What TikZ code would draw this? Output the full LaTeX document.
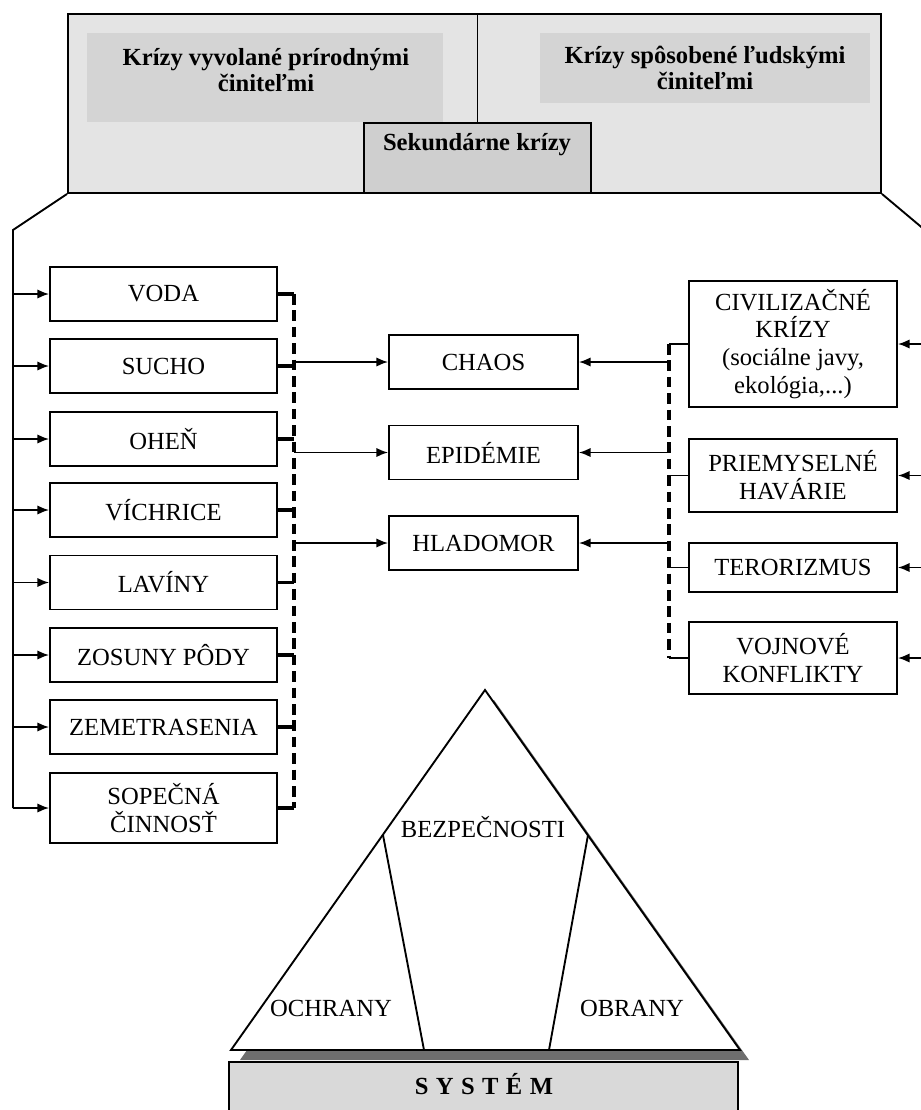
\documentclass[tikz,border=0pt]{standalone}
\usepackage{fontspec}
\setmainfont{Liberation Serif}
\usetikzlibrary{arrows.meta}
\definecolor{framegray}{HTML}{E4E4E4}
\definecolor{titlegray}{HTML}{D4D4D4}
\definecolor{secgray}{HTML}{CFCFCF}
\definecolor{sysgray}{HTML}{D9D9D9}
\definecolor{shadowgray}{HTML}{6E6E6E}
\tikzstyle{box}=[draw=black, line width=1.5pt, fill=white, inner sep=0pt, align=center, font=\fontsize{21}{23.8}\selectfont]
\tikzstyle{lbox}=[box, minimum width=6.81cm, minimum height=1.62cm]
\tikzstyle{mbox}=[box, minimum width=5.67cm, minimum height=1.62cm]
\tikzstyle{rbox}=[box, minimum width=6.24cm]
\tikzstyle{title}=[align=center, inner sep=0pt, font=\fontsize{21}{22}\selectfont\bfseries]
\tikzstyle{label}=[inner sep=0pt, font=\fontsize{21}{23.8}\selectfont]
\tikzstyle{stub}=[line width=2.6pt]
\tikzstyle{spine}=[line width=2.8pt, dash pattern=on 9pt off 5pt]

\begin{document}
\begin{tikzpicture}[x=0.03cm,y=-0.03cm,>={Latex[length=10pt,width=8pt]},line width=1.6pt]
		\useasboundingbox(0,0)rectangle(921,1110);
		% horny ramec
		\node(frame)[draw,fill=framegray,minimum width=24.39cm,minimum height=5.37cm]at(474.5,103.5){};
		\node(natgray)[fill=titlegray,minimum width=10.68cm,minimum height=2.67cm]at(265,77.5){};
		\node(humgray)[fill=titlegray,minimum width=9.9cm,minimum height=2.1cm]at(705,68){};
		\node(sek)[draw,fill=secgray,minimum width=6.81cm,minimum height=2.1cm]at(477.5,158){};
		\draw(sek.north|-frame.north)--(sek.north);
		\node(natural)[title]at(266,70){Krízy vyvolané prírodnými\\činiteľmi};
		\node(human)[title]at(705,68){Krízy spôsobené ľudskými\\činiteľmi};
		\node(sektext)[title]at(477,145){Sekundárne krízy};
		\coordinate(LT)at(13,230);
		\coordinate(RT)at(932,236);
		\coordinate(DL)at(294,0);
		\coordinate(DR)at(669,0);
		% prirodne krizy
		\node(voda)[lbox]at(163.5,294){VODA};
		\node(sucho)[lbox]at(163.5,366){SUCHO};
		\node(ohen)[lbox]at(163.5,439){OHEŇ};
		\node(vichrice)[lbox]at(163.5,510){VÍCHRICE};
		\node(laviny)[lbox]at(163.5,582.5){LAVÍNY};
		\node(zosuny)[lbox]at(163.5,655){ZOSUNY PÔDY};
		\node(zemetrasenia)[lbox]at(163.5,727){ZEMETRASENIA};
		\node(sopecna)[lbox,minimum height=2.1cm]at(163.5,808){SOPEČNÁ\\ČINNOSŤ};
		% sekundarne krizy
		\node(chaos)[mbox]at(483.5,362){CHAOS};
		\node(epidemie)[mbox]at(483.5,452.5){EPIDÉMIE};
		\node(hladomor)[mbox]at(483.5,543){HLADOMOR};
		% krizy sposobene clovekom
		\node(civil)[rbox,minimum height=3.78cm]at(793,344){CIVILIZAČNÉ\\KRÍZY\\(sociálne javy,\\ekológia,...)};
		\node(priemysel)[rbox,minimum height=2.19cm]at(793,475.5){PRIEMYSELNÉ\\HAVÁRIE};
		\node(terorizmus)[rbox,minimum height=1.47cm]at(793,567.5){TERORIZMUS};
		\node(vojnove)[rbox,minimum height=2.16cm]at(793,658){VOJNOVÉ\\KONFLIKTY};
		\draw(frame.south west)--(LT)--(LT|-sopecna.west);
		\draw(frame.south east)--(RT)--(RT|-vojnove.east);
		\foreach \n in {voda,sucho,ohen,vichrice,laviny,zosuny,zemetrasenia,sopecna}{
			\draw[->](LT|-\n.west)--(\n.west);
			\draw[stub](\n.east)--(\n.east-|DL);
		}
		\draw[spine](DL|-voda.east)--(DL|-sopecna.east);
		\foreach \n in {civil,priemysel,terorizmus,vojnove}{
			\draw[->](RT|-\n.east)--(\n.east);
			\draw(\n.west)--(\n.west-|DR);
		}
		\draw[spine](DR|-civil.west)--(DR|-vojnove.west);
		\foreach \n in {chaos,epidemie,hladomor}{
			\draw[->](DL|-\n.west)--(\n.west);
			\draw[->](DR|-\n.east)--(\n.east);
		}
		% trojuholnik
		\coordinate(apex)at(485,690);
		\coordinate(bl)at(231,1050);
		\coordinate(br)at(740,1050);
		\coordinate(p1)at(383,835);
		\coordinate(q1)at(424,1050);
		\coordinate(p2)at(588,835);
		\coordinate(q2)at(549,1050);
		\fill[shadowgray](494,700)--(240,1060)--(749,1060)--cycle;
		\draw[fill=white,line join=miter](apex)--(bl)--(br)--cycle;
		\draw(p1)--(q1);
		\draw(p2)--(q2);
		\node(bezp)[label]at(483,827){BEZPEČNOSTI};
		\node(ochrany)[label]at(331,1008){OCHRANY};
		\node(obrany)[label]at(632,1008){OBRANY};
		\node(system)[draw,fill=sysgray,minimum width=15.27cm,minimum height=2.04cm,anchor=north]at(483.5,1061){};
		\node(systext)[inner sep=0pt,font=\fontsize{21}{22}\selectfont\bfseries\addfontfeature{LetterSpace=30}]at(484,1084){SYSTÉM};
\end{tikzpicture}
\end{document}
